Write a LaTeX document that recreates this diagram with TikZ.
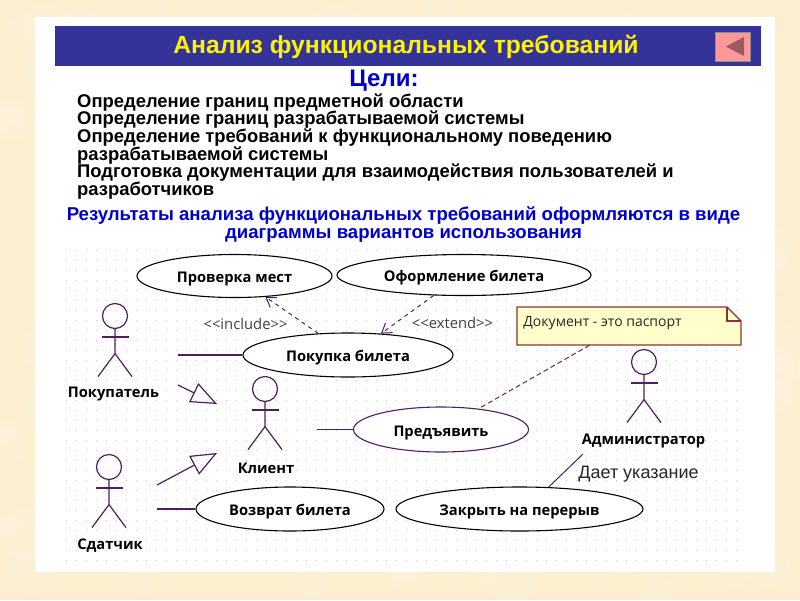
\documentclass[tikz,border=0pt]{standalone}
\usepackage{fontspec}
\setmainfont{Liberation Sans}
\newfontfamily\umlfont{Open Sans}
\usetikzlibrary{arrows.meta,shapes.geometric}
\definecolor{paper}{RGB}{252,239,208}
\definecolor{barblue}{RGB}{51,51,153}
\definecolor{headblue}{RGB}{0,0,204}
\definecolor{umlpurple}{RGB}{80,30,95}
\definecolor{notered}{RGB}{140,50,50}
\definecolor{noteyellow}{RGB}{255,255,204}
\definecolor{btnpink}{RGB}{255,153,153}
\definecolor{btnarrow}{RGB}{153,90,100}
\tikzset{
  usecase/.style={ellipse,draw=black,fill=white,line width=1.1pt,inner sep=0pt,text height=16pt,text depth=3pt,font=\umlfont\bfseries\fontsize{14.7}{16}\selectfont},
  acthead/.style={circle,draw=umlpurple,line width=1.2pt,minimum size=25pt,inner sep=0pt},
  actline/.style={draw=umlpurple,line width=1.2pt},
  actlab/.style={font=\umlfont\bfseries\fontsize{14.7}{16}\selectfont},
  assoc/.style={draw=umlpurple,line width=1.5pt},
  genlz/.style={draw=umlpurple,line width=1.2pt,-{Triangle[open,length=26pt,width=21pt]}},
  dep/.style={draw=umlpurple,line width=1pt,dash pattern=on 4pt off 4pt,-{Straight Barb[length=9pt,width=12pt]}},
  stereo/.style={font=\umlfont\fontsize{14.8}{16}\selectfont,text=black!75},
  goaltxt/.style={anchor=west,align=left,inner sep=0pt,font=\bfseries\fontsize{18.4}{17.7}\selectfont},
  headtxt/.style={align=center,text=headblue,inner sep=0pt,font=\bfseries\fontsize{18.6}{17.2}\selectfont}
}
\newcommand{\actor}[3]{
  \node[acthead] (#1) at (#2,#3) {};
  \draw[actline] (#1.south) -- ++(0,24.5) coordinate (#1hip) -- ++(-17,23);
  \draw[actline] (#1hip) -- ++(17,23);
  \draw[actline] (#2-13.5,#3+21) -- (#2+13.5,#3+21);
}
\begin{document}
\begin{tikzpicture}[x=1pt,y=-1pt]
  \useasboundingbox (0,0) rectangle (800,600);
  \fill[paper] (0,0) rectangle (800,600);
  \pgfmathsetseed{7}
  \foreach \i in {1,...,120} {\fill[white,opacity=0.1] (rnd*800,rnd*600) circle[radius=10+rnd*20];}
  \fill[white] (35,17) rectangle (775,572);
  % title bar
  \node[fill=barblue,minimum width=706pt,minimum height=40pt,inner sep=0pt] (bar) at (408,46) {};
  \node[text=yellow,font=\bfseries\fontsize{24.7}{26}\selectfont] (title) at (406,47) {Анализ функциональных требований};
  \node[fill=btnpink,draw=black!45,line width=1pt,minimum width=35pt,minimum height=29pt,inner sep=0pt] (btn) at (733,46.5) {};
  \fill[btnarrow] (726,46.5) -- (744,37) -- (744,56) -- cycle;
  \node[text=headblue,font=\bfseries\fontsize{24}{25}\selectfont] (goals) at (384,81) {Цели:};
  \node[goaltxt] (goallist) at (77,146.5) {Определение границ предметной области\\Определение границ разрабатываемой системы\\Определение требований к функциональному поведению\\разрабатываемой системы\\Подготовка документации для взаимодействия пользователей и\\разработчиков};
  \node[headtxt] (result) at (403.5,224.5) {Результаты анализа функциональных требований оформляются в виде\\диаграммы вариантов использования};
  % dots
  \foreach \y in {250,260,...,560} {\draw[black!22,line width=1pt,dash pattern=on 1pt off 9pt] (66,\y) -- (745,\y);}
  % use cases
  \node[usecase,minimum width=195pt,minimum height=43pt] (check) at (234.5,276) {Проверка мест};
  \node[usecase,minimum width=254pt,minimum height=41pt] (issue) at (464,275) {Оформление билета};
  \node[usecase,minimum width=210pt,minimum height=44pt] (buy) at (348,355) {Покупка билета};
  \node[usecase,draw=umlpurple,minimum width=175pt,minimum height=45pt] (show) at (441,429.5) {Предъявить};
  \node[usecase,minimum width=188pt,minimum height=44pt] (refund) at (290,509) {Возврат билета};
  \node[usecase,minimum width=247pt,minimum height=44pt] (close) at (519.5,509) {Закрыть на перерыв};
  % actors
  \actor{buyer}{115}{316}
  \actor{client}{265}{389}
  \actor{admin}{644}{362}
  \actor{giver}{109}{467}
  \node[actlab] (buyerlab) at (113.5,394) {Покупатель};
  \node[actlab] (clientlab) at (266,468) {Клиент};
  \node[actlab] (adminlab) at (643.5,441) {Администратор};
  \node[actlab] (giverlab) at (110,546) {Сдатчик};
  % note
  \draw[draw=notered,fill=noteyellow,line width=1.2pt] (517,307) -- (727,307) -- (741,321) -- (741,345) -- (517,345) -- cycle;
  \draw[draw=notered,line width=1.2pt] (727,307) -- (727,321) -- (741,321);
  \node[minimum width=224pt,minimum height=38pt,inner sep=0pt] (note) at (629,326) {};
  \node[font=\umlfont\fontsize{14}{16}\selectfont,text=black!85] (notetxt) at (602.5,323.5) {Документ - это паспорт};
  % connectors
  \coordinate (buyerend) at (178,355); \coordinate (clientend) at (317,429.5); \coordinate (giverend) at (157,509);
  \coordinate (buyergen) at (178,385); \coordinate (buyertip) at (217,404);
  \coordinate (givergen) at (157,485); \coordinate (givertip) at (217,453);
  \coordinate (adminend) at (583,454);
  \draw[assoc] (buyerend) -- (buy.west);
  \draw[assoc] (clientend) -- (show.west);
  \draw[assoc] (giverend) -- (refund.west);
  \draw[genlz] (buyergen) -- (buyertip);
  \draw[genlz] (givergen) -- (givertip);
  \draw[dep] (buy.144) -- (check.-34);
  \draw[dep] (issue.-146) -- (buy.33);
  \draw[draw=notered,line width=1.1pt,dash pattern=on 5pt off 3pt] (note.206) -- (show.29);
  \draw[draw=umlpurple,line width=1pt] (adminend) -- (close.37);
  \node[stereo] (incl) at (245.5,323.5) {<{}<include>{}>};
  \node[stereo] (ext) at (452.5,322.5) {<{}<extend>{}>};
  \node[font=\fontsize{18}{20}\selectfont,text=black!85] (adminnote) at (638.5,474.5) {Дает указание};
\end{tikzpicture}
\end{document}
